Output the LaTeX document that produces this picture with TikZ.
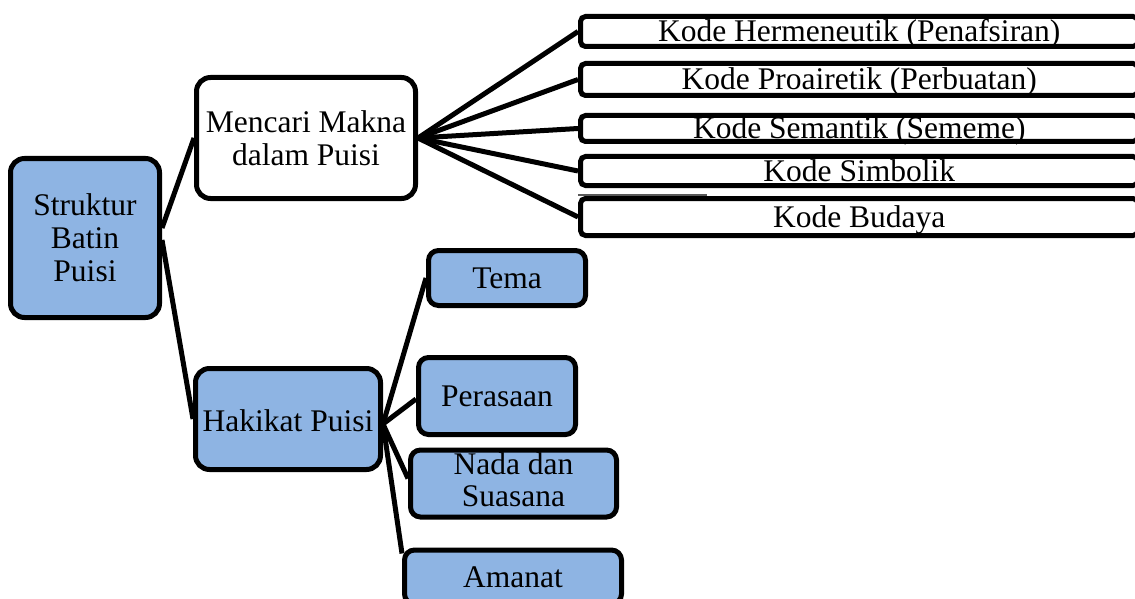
\documentclass[tikz,border=0pt]{standalone}
\usepackage{fontspec}
\setmainfont{Liberation Serif}
\usetikzlibrary{calc}
\definecolor{boxblue}{RGB}{142,180,227}
\begin{document}
\begin{tikzpicture}[x=1pt,y=-1pt,
  box/.style={draw=black, line width=5pt, inner sep=0pt, font=\fontsize{31.5}{33}\selectfont, align=center},
  bigbox/.style={box, rounded corners=14pt},
  smallbox/.style={box, rounded corners=10pt, fill=boxblue, text height=21pt, text depth=0pt},
  kode/.style={box, rounded corners=5pt, fill=white, text height=21pt, text depth=0pt, minimum width=557.5pt},
  conn/.style={draw=black, line width=5pt}]
\useasboundingbox (0,0) rectangle (1135,599);
\clip (0,0) rectangle (1135,599);
% main boxes
\node[bigbox, fill=boxblue, minimum width=149pt, minimum height=159pt] (S) at (85,238) {Struktur\\Batin\\Puisi};
\node[bigbox, fill=white, minimum width=219pt, minimum height=121pt] (M) at (306,138) {Mencari Makna\\dalam Puisi};
\node[bigbox, fill=boxblue, minimum width=185pt, minimum height=101pt, text height=21pt, text depth=0pt] (H) at (288,419) {\raisebox{-2pt}{Hakikat Puisi}};
% kode boxes
\node[kode, minimum height=30pt] (K1) at (859.25,31.5) {Kode Hermeneutik (Penafsiran)};
\node[kode, minimum height=32pt] (K2) at (859.25,79.5) {Kode Proairetik (Perbuatan)};
\node[kode, minimum height=26pt] (K3) at (859.25,128.5) {Kode Semantik (Sememe)};
\node[kode, minimum height=29pt] (K4) at (859.25,171) {Kode Simbolik};
\node[kode, minimum height=37pt] (K5) at (859.25,217) {Kode Budaya};
\coordinate (g1) at (578,194.5);
\coordinate (g2) at (707,194.5);
\draw[black!65, line width=2pt] (g1) -- (g2);
% hakikat children
\node[smallbox, minimum width=157pt, minimum height=55pt] (T) at (507,278) {Tema};
\node[smallbox, minimum width=157pt, minimum height=77pt] (P) at (497,396) {Perasaan};
\node[box, rounded corners=10pt, fill=boxblue, minimum width=206pt, minimum height=67pt] (N) at (513.5,483.5) {\raisebox{-3pt}{\begin{tabular}{@{}c@{}}Nada dan\\[-1pt] Suasana\end{tabular}}};
\node[smallbox, minimum width=217pt, minimum height=54pt] (A) at (513,577) {Amanat};
% connectors
\draw[conn] ([yshift=10pt]S.east) -- (M.west);
\draw[conn] ([yshift=-2pt]S.east) -- (H.west);
\foreach \k in {K1,K2,K3,K4,K5}{
  \draw[conn] (M.east) -- (\k.west);
}
\draw[conn] ([yshift=-5pt]H.east) -- (T.west);
\draw[conn] ([yshift=-5pt]H.east) -- ([yshift=-3pt]P.west);
\draw[conn] ([yshift=-5pt]H.east) -- ([yshift=5pt]N.west);
\draw[conn] ([yshift=-5pt]H.east) -- ([yshift=-6pt]A.north west);
\end{tikzpicture}
\end{document}
